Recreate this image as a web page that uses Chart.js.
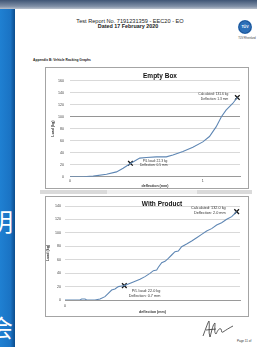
<!DOCTYPE html>
<html><head><meta charset="utf-8">
<script src="https://cdn.jsdelivr.net/npm/chart.js@4/dist/chart.umd.min.js"></script>
<style>
html,body{margin:0;padding:0;width:257px;height:347px;overflow:hidden;background:#fff;font-family:"Liberation Sans",Arial,sans-serif;color:#222;}
.a{position:absolute;white-space:nowrap;}
.box{position:absolute;border:1px solid #a4a4a4;background:#fff;}
.box canvas{position:absolute;left:0;top:0;}
.ct{position:absolute;font-weight:bold;font-size:6.5px;transform:translate(-50%,-50%);white-space:nowrap;color:#111;}
</style></head><body>
<div class="a" style="left:0;top:0;width:257px;height:9px;background:linear-gradient(#3f5575,#7f8fa6 70%,#b9c1cc);"></div>
<div class="a" style="left:0;top:9px;width:15px;height:338px;overflow:hidden;background:linear-gradient(to right,#1f80d2,#1a73c4 70%,#0c4c8c);">
  <span class="a" style="left:-11px;top:200px;font-family:'Noto Sans CJK SC';font-size:24px;color:#fff;line-height:24px;">明</span>
  <span class="a" style="left:-11px;top:306px;font-family:'Noto Sans CJK SC';font-size:24px;color:#fff;line-height:24px;">会</span>
</div>
<div class="a" style="left:130px;top:20.5px;transform:translate(-50%,-50%);font-size:5.6px;">Test Report No. 7191231359 - EEC20 - EO</div>
<div class="a" style="left:128px;top:25.6px;transform:translate(-50%,-50%);font-size:5.4px;font-weight:bold;">Dated 17 February 2020</div>
<div class="a" style="left:238px;top:19.5px;width:14px;height:14px;border-radius:50%;background:radial-gradient(circle,#2c6fb8 55%,#1b4f8e 60%,#2c6fb8 70%);"></div>
<div class="a" style="left:245px;top:26.5px;transform:translate(-50%,-50%);font-size:3.6px;font-weight:bold;color:#fff;">TÜV</div>
<div class="a" style="left:247px;top:37.5px;transform:translate(-50%,-50%);font-size:2.6px;color:#444;">TÜV Rheinland</div>
<div class="a" style="left:33px;top:60px;transform:translateY(-50%);font-size:3.3px;font-weight:bold;">Appendix B: Vehicle Racking Graphs</div>

<div class="box" style="left:45px;top:67px;width:202px;height:120px;"><canvas id="c1" width="202" height="120"></canvas></div>
<div class="ct" style="left:160px;top:75px;">Empty Box</div>

<div class="a" style="left:40px;top:190px;width:212px;height:4px;background:#dadada;"></div>
<div class="a" style="left:107px;top:190px;width:90px;height:4px;background:#efefef;"></div>

<div class="box" style="left:45px;top:196px;width:202px;height:119px;"><canvas id="c2" width="202" height="119"></canvas></div>
<div class="ct" style="left:162px;top:203px;">With Product</div>

<svg class="a" style="left:200px;top:318px;" width="40" height="22" viewBox="0 0 40 22">
<path d="M3 18 C6 10 8 4 9 3 C10 8 8 14 10 19 C12 12 13 6 15 5 C15 10 14 15 16 16 C18 12 19 10 21 11 C22 13 21 15 23 14 C26 12 29 10 33 8 M6 12 L16 11" fill="none" stroke="#333" stroke-width="0.8"/>
</svg>
<div class="a" style="left:237px;top:341px;transform:translateY(-50%);font-size:3px;color:#333;">Page 11 of</div>

<script>
// ---- Empty Box data ----
const emptyDeflection = [0,0.1,0.175,0.275,0.35,0.4,0.455,0.525,0.575,0.65,0.725,0.775,0.85,0.925,1.0,1.05,1.1,1.14,1.175,1.225,1.26];
const emptyLoad       = [0,0,1,4,8,14,22,31,32,33,33,36,42,49,58,67,83,100,111,122,132];
const emptyMarkerX    = [0.455,1.26];
const emptyMarkerY    = [22.3,132];
const emptyMarkerText = [["P/L load: 22.3 kg","Deflection: 0.5 mm"],["Calculated: 131.6 kg","Deflection: 1.3 mm"]];
const emptyXTicks     = [0,1];

// ---- With Product data ----
const prodDeflection = [0,0.171,0.19,0.229,0.248,0.343,0.4,0.457,0.495,0.533,0.571,0.61,0.648,0.678,0.724,0.781,0.857,0.914,0.971,1.01,1.048,1.067,1.105,1.143,1.181,1.219,1.257,1.295,1.333,1.39,1.448,1.505,1.562,1.619,1.676,1.733,1.79,1.848,1.905,1.962];
const prodLoad       = [0,0,1.5,1.5,0,0,1.5,5,9.9,14.9,16.4,19.9,20.9,21.4,23.8,26.8,30.8,34.8,39.7,43.7,44.7,48.7,55.6,57.6,62.1,67,72,73,79.4,83.4,87.9,92.8,97.8,102.8,106.3,111.7,115.2,120.2,124.1,131.6];
const prodMarkerX    = [0.678,1.962];
const prodMarkerY    = [21.4,131.6];
const prodMarkerText = [["P/L load: 22.0 kg","Deflection: 0.7 mm"],["Calculated: 132.0 kg","Deflection: 2.0 mm"]];
const prodXTicks     = [0];

const FONT = '"Liberation Sans", Arial, sans-serif';
const notes = {
  id:'notes',
  afterDatasetsDraw(chart, args, opts){
    const ctx = chart.ctx, xs = chart.scales.x, ys = chart.scales.y;
    opts.items.forEach(it=>{
      const px = xs.getPixelForValue(it.x), py = ys.getPixelForValue(it.y);
      ctx.save();
      ctx.font = opts.size + 'px ' + FONT;
      ctx.fillStyle = '#333'; ctx.textAlign = 'right'; ctx.textBaseline = 'middle';
      it.lines.forEach((t,i)=>ctx.fillText(t, px + it.dx, py + it.dy + i*opts.gap));
      ctx.restore();
    });
  }
};

function makeChart(id, xs, ys, mx, my, texts, xTicks, cfg){
  const line = xs.map((x,i)=>({x, y: ys[i]}));
  const marks = mx.map((x,i)=>({x, y: my[i]}));
  return new Chart(document.getElementById(id), {
    type:'scatter',
    data:{datasets:[
      {data: line, showLine:true, borderColor:'#5f87b4', borderWidth:1.1, pointRadius:0, tension:0, fill:false},
      {data: marks, showLine:false, pointStyle:'crossRot', pointRadius:3.3, borderColor:'#151515', borderWidth:1.3}
    ]},
    options:{
      responsive:false, animation:false, devicePixelRatio:1,
      layout:{padding:{top:cfg.top, right:8, left:0, bottom:0}},
      plugins:{legend:{display:false}, tooltip:{enabled:false},
        notes:{size:cfg.noteSize, gap:cfg.noteGap, items: marks.map((m,i)=>({x:m.x, y:m.y, lines:texts[i], dx:cfg.dx[i], dy:cfg.dy[i]}))}},
      scales:{
        x:{type:'linear', min:0, max:cfg.xMax,
           afterBuildTicks: s=>{ s.ticks = xTicks.map(v=>({value:v})); },
           grid:{display:false, drawTicks:false},
           border:{display:true, color:'#9a9a9a', width:1},
           ticks:{font:{size:3.6, family:FONT}, color:'#444', padding:cfg.xPad, maxRotation:0, autoSkip:false},
           title:{display:true, text:'deflection (mm)', font:{size:3.6, family:FONT, weight:'bold'}, color:'#333', padding:{top:0,bottom:cfg.xTitlePad}},
           afterFit: s=>{ s.height = cfg.xH; }},
        y:{min:0, max:cfg.yMax,
           ticks:{stepSize:20, font:{size:3.6, family:FONT}, color:'#444', padding:cfg.yPad},
           grid:{color: c=> (cfg.darkLine && c.tick && c.tick.value===100) ? '#7a7a7a' : '#cfcfcf', lineWidth:0.8, drawTicks:false},
           border:{display:false},
           title:{display:true, text:'Load (kg)', font:{size:3.6, family:FONT, weight:'bold'}, color:'#333', padding:{top:cfg.yTitlePad,bottom:0}},
           afterFit: s=>{ s.width = cfg.yW; }}
      }
    },
    plugins:[notes]
  });
}

makeChart('c1', emptyDeflection, emptyLoad, emptyMarkerX, emptyMarkerY, emptyMarkerText, emptyXTicks,
  {top:12.7, xMax:1.28, yMax:160, xH:11.3, yW:24, xPad:2, yPad:6, xTitlePad:0, yTitlePad:5, darkLine:true,
   noteSize:3.3, noteGap:4.5, dx:[37,-9], dy:[-2.4,-3]});
makeChart('c2', prodDeflection, prodLoad, prodMarkerX, prodMarkerY, prodMarkerText, prodXTicks,
  {top:9, xMax:2.0, yMax:140, xH:16, yW:19, xPad:4, yPad:4, xTitlePad:2, yTitlePad:0, darkLine:false,
   noteSize:3.8, noteGap:5, dx:[36,-11], dy:[5.3,-3.7]});
</script>
</body></html>
